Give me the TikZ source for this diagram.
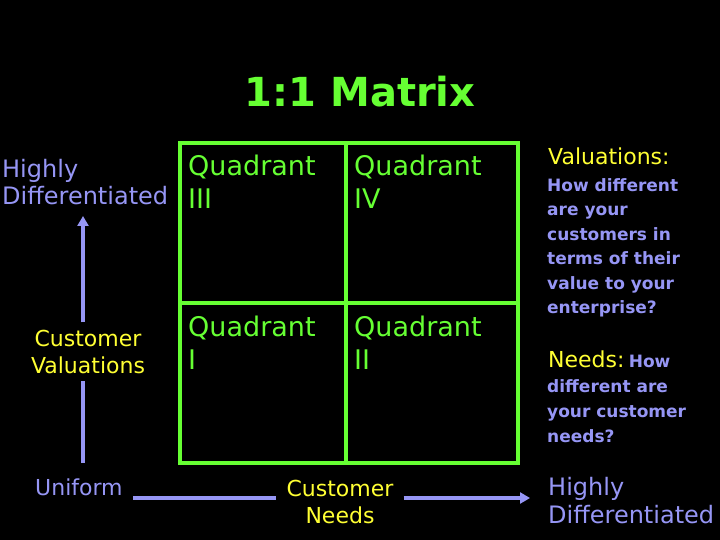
\documentclass[tikz,border=0pt]{standalone}
\usepackage{fontspec}
\setmainfont{DejaVu Sans}
\usetikzlibrary{arrows.meta}
\definecolor{qgreen}{RGB}{102,255,51}
\definecolor{lav}{RGB}{150,150,245}
\definecolor{yel}{RGB}{255,255,51}
\begin{document}
\begin{tikzpicture}[x=1pt,y=-1pt,
  txt/.style={inner sep=0pt, anchor=base west, align=left},
  quad/.style={txt, text=qgreen, font=\fontsize{27}{33}\selectfont},
  lavtxt/.style={text=lav, font=\fontsize{24}{28}\selectfont},
  yeltxt/.style={text=yel, font=\fontsize{22}{27}\selectfont},
  bodytxt/.style={txt, text=lav, font=\bfseries\fontsize{17}{24.5}\selectfont},
  gridline/.style={qgreen, line width=4.8pt},
  axis/.style={lav, line width=3.5pt},
  axisarrow/.style={axis, -{Triangle[length=10pt,width=11pt]}}]
\fill[black] (0,0) rectangle (720,540);
\useasboundingbox (0,0) rectangle (720,540);

\node[anchor=base, inner sep=0pt, text=qgreen, font=\bfseries\fontsize{40}{44}\selectfont] (title) at (360,107) {1:1 Matrix};

% grid
\draw[gridline] (180,143) rectangle (518,463);
\draw[gridline] (346,143) -- (346,463);
\draw[gridline] (180,303) -- (518,303);

\node[quad] (q3) at (188,209) {Quadrant\\III};
\node[quad] (q4) at (354,209) {Quadrant\\IV};
\node[quad] (q1) at (188,369) {Quadrant\\I};
\node[quad] (q2) at (354,369) {Quadrant\\II};

% left axis
\node[txt, lavtxt] (hdl) at (2,205) {Highly\\Differentiated};
\node[yeltxt, inner xsep=0pt, inner ysep=7pt, align=center, anchor=base] (cv) at (88,373) {Customer\\Valuations};
\coordinate (vtop) at (83,216);
\coordinate (vbot) at (83,463);
\draw[axis] (vbot) -- (vbot |- cv.south);
\draw[axisarrow] (vtop |- cv.north) -- (vtop);

% bottom axis
\node[txt, lavtxt, font=\fontsize{22}{27}\selectfont] (uni) at (35,495) {Uniform};
\node[yeltxt, inner xsep=10pt, inner ysep=0pt, align=center, anchor=base] (cn) at (340,523) {Customer\\Needs};
\coordinate (hl) at (133,498);
\coordinate (hr) at (530,498);
\draw[axis] (hl) -- (hl -| cn.west);
\draw[axisarrow] (hl -| cn.east) -- (hr);
\node[txt, lavtxt] (hdr) at (548,523) {Highly\\Differentiated};

% right panel
\node[txt, yeltxt] (valt) at (548,165) {Valuations:};
\node[bodytxt] (valb) at (547,313.5) {How different\\are your\\customers in\\terms of their\\value to your\\enterprise?};
\node[txt] (needt) at (548,367) {{\color{yel}\fontsize{22}{27}\selectfont Needs:} {\color{lav}\bfseries\fontsize{17}{24}\selectfont How}};
\node[bodytxt, font=\bfseries\fontsize{17}{25}\selectfont] (needb) at (547,442) {different are\\your customer\\needs?};
\end{tikzpicture}
\end{document}
